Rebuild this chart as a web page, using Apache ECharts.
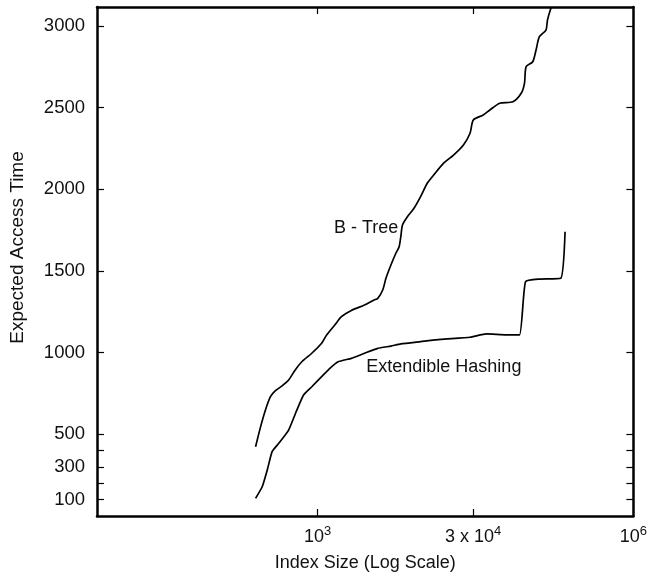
<!DOCTYPE html>
<html>
<head>
<meta charset="utf-8">
<script src="https://cdn.jsdelivr.net/npm/echarts@6/dist/echarts.min.js"></script>
<style>
  html, body { margin: 0; padding: 0; background: #fff; }
  #main { width: 650px; height: 577px; }
</style>
</head>
<body>
<div id="main"></div>
<script>
// index size (log scale) vs expected access time
var bTreeSize = [257, 287, 319, 356, 397, 459, 530, 612, 707, 879, 1091, 1217, 1455, 1682, 2089, 2786,
  3436, 3724, 4150, 4456, 4966, 5533, 5943, 6166, 6397, 7128, 8227, 9509, 10990, 12680, 15740, 19550,
  24270, 28050, 30130, 37420, 43290, 53730, 71630, 85900, 92300, 95700, 110600, 118900, 127900,
  147700, 152800, 164500, 168000]
var bTreeTime = [424, 547, 649, 730, 767, 796, 832, 894, 944, 996, 1057, 1108, 1169, 1220, 1258, 1291,
  1322, 1332, 1383, 1455, 1536, 1608, 1648, 1709, 1781, 1832, 1883, 1954, 2036, 2087, 2159, 2209,
  2271, 2342, 2424, 2454, 2485, 2526, 2535, 2587, 2648, 2750, 2780, 2852, 2933,
  2974, 3036, 3107, 3115]

var hashSize = [257, 297, 332, 369, 427, 530, 635, 734, 879, 1091, 1305, 1566, 2089, 2786, 3724, 4966,
  6166, 9509, 14660, 28050, 40300, 62100, 82800, 94400, 127700, 204200, 224400]
var hashTime = [108, 179, 282, 394, 445, 526, 649, 741, 791, 853, 904, 944, 965, 996, 1026, 1040,
  1053, 1067, 1081, 1094, 1114, 1108, 1108, 1434, 1450, 1455, 1740]

var xLabelValues = [1000, 30000, 1000000]
var yLabelValues = [100, 300, 500, 1000, 1500, 2000, 2500, 3000]
var yTickValues = [100, 200, 300, 400, 500, 1000, 1500, 2000, 2500, 3000]

function pairs(xs, ys) {
  return xs.map(function (x, i) { return [x, ys[i]] })
}

function powLabel(v) {
  var e = Math.floor(Math.log10(v) + 1e-9)
  var m = Math.round(v / Math.pow(10, e))
  return (m > 1 ? m + ' x ' : '') + '10{s|' + e + '}'
}

var font = 'Liberation Sans, Arial, Helvetica, sans-serif'
var frame = { onZero: false, lineStyle: { color: '#000', width: 2.5 } }
var tickStyle = { color: '#000', width: 1.2 }

var chart = echarts.init(document.getElementById('main'))
chart.setOption({
  animation: false,
  backgroundColor: '#fff',
  textStyle: { fontFamily: font, color: '#111' },
  grid: { left: 92, right: 15, top: 7, bottom: 61, containLabel: false },
  xAxis: [
    {
      type: 'log',
      logBase: 10,
      min: 8,
      max: 1000000,
      position: 'bottom',
      name: 'Index Size (Log Scale)',
      nameLocation: 'middle',
      nameGap: 35,
      nameTextStyle: { fontSize: 18, color: '#111', fontFamily: font },
      axisLine: frame,
      axisTick: { inside: true, length: 7, customValues: xLabelValues.slice(0, 2), lineStyle: tickStyle },
      minorTick: { show: false },
      splitLine: { show: false },
      axisLabel: {
        customValues: xLabelValues,
        formatter: powLabel,
        margin: 9,
        fontSize: 18,
        lineHeight: 24,
        color: '#111',
        fontFamily: font,
        rich: { s: { fontSize: 13, lineHeight: 14, verticalAlign: 'top', color: '#111', fontFamily: font } }
      }
    },
    {
      type: 'log',
      logBase: 10,
      min: 8,
      max: 1000000,
      position: 'top',
      axisLine: frame,
      axisTick: { inside: true, length: 7, customValues: xLabelValues.slice(0, 2), lineStyle: tickStyle },
      axisLabel: { show: false },
      splitLine: { show: false }
    }
  ],
  yAxis: [
    {
      type: 'value',
      min: 0,
      max: 3115,
      position: 'left',
      name: 'Expected Access Time',
      nameLocation: 'middle',
      nameGap: 70,
      nameTextStyle: { fontSize: 19, color: '#111', fontFamily: font, padding: [0, 0, 0, 28] },
      axisLine: frame,
      axisTick: { inside: true, length: 7, customValues: yTickValues, lineStyle: tickStyle },
      splitLine: { show: false },
      axisLabel: {
        customValues: yLabelValues,
        formatter: function (v) { return String(v) },
        margin: 12,
        fontSize: 18.5,
        color: '#111',
        fontFamily: font
      }
    },
    {
      type: 'value',
      min: 0,
      max: 3115,
      position: 'right',
      axisLine: frame,
      axisTick: { inside: true, length: 7, customValues: yTickValues, lineStyle: tickStyle },
      splitLine: { show: false },
      axisLabel: { show: false }
    }
  ],
  series: [
    {
      name: 'B - Tree',
      type: 'line',
      data: pairs(bTreeSize, bTreeTime),
      showSymbol: false,
      smooth: 0.25,
      lineStyle: { color: '#000', width: 1.7 },
      markPoint: {
        symbol: 'circle',
        symbolSize: 0,
        data: [{ coord: [2890, 1763] }],
        label: { show: true, position: 'inside', formatter: 'B - Tree', fontSize: 18, color: '#111', fontFamily: font }
      }
    },
    {
      name: 'Extendible Hashing',
      type: 'line',
      data: pairs(hashSize, hashTime),
      showSymbol: false,
      smooth: 0.15,
      lineStyle: { color: '#000', width: 1.7 },
      markPoint: {
        symbol: 'circle',
        symbolSize: 0,
        data: [{ coord: [15810, 914] }],
        label: { show: true, position: 'inside', formatter: 'Extendible Hashing', fontSize: 18, color: '#111', fontFamily: font }
      }
    }
  ]
})
</script>
</body>
</html>
